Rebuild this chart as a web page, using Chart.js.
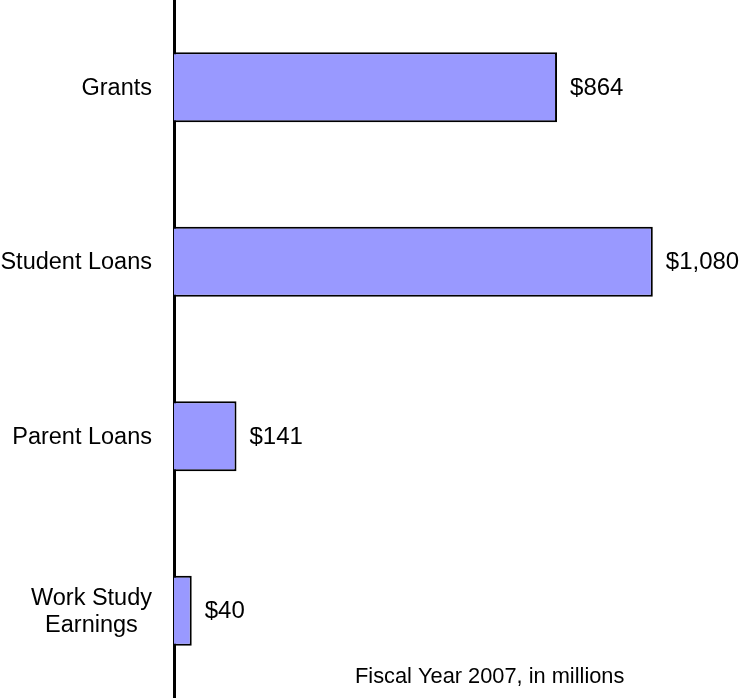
<!DOCTYPE html>
<html>
<head>
<meta charset="utf-8">
<title>Financial Aid by Type</title>
<script src="https://cdn.jsdelivr.net/npm/chart.js@4/dist/chart.umd.min.js"></script>
<style>
  html, body { margin: 0; padding: 0; background: #fff; }
  canvas { display: block; }
</style>
</head>
<body>
<canvas id="aidChart" width="740" height="698"></canvas>
<script>
// aid categories, top to bottom
var categories = ['Grants', 'Student Loans', 'Parent Loans', ['Work Study', 'Earnings']];
// amounts in millions of dollars
var amounts = [864, 1080, 141, 40];
var footnote = 'Fiscal Year 2007, in millions';

var fontFamily = "'Liberation Sans', Arial, Helvetica, sans-serif";

var formatMoney = function (v) {
  return '$' + v.toLocaleString('en-US');
};

// value labels next to each bar, category names left of the axis, footnote
var labelPlugin = {
  id: 'aidLabels',
  afterDraw: function (chart) {
    let ctx = chart.ctx;
    let meta = chart.getDatasetMeta(0);
    let yScale = chart.scales.y;

    ctx.save();
    ctx.fillStyle = '#000';

    ctx.font = '24px ' + fontFamily;
    ctx.textAlign = 'left';
    ctx.textBaseline = 'middle';
    meta.data.forEach((bar, i) => {
      ctx.fillText(formatMoney(amounts[i]), bar.x + 13, bar.y + 1);
    });

    ctx.font = '23.5px ' + fontFamily;
    ctx.textAlign = 'center';
    let rightEdge = yScale.right - 22;
    let lineHeight = 27;
    categories.forEach((label, i) => {
      let lines = Array.isArray(label) ? label : [label];
      let widest = Math.max.apply(null, lines.map(l => ctx.measureText(l).width));
      let cx = rightEdge - widest / 2;
      let cy = yScale.getPixelForTick(i);
      let startY = cy - (lines.length - 1) * lineHeight / 2;
      lines.forEach((line, j) => {
        ctx.fillText(line, cx, startY + j * lineHeight + 1);
      });
    });

    ctx.font = '21.8px ' + fontFamily;
    ctx.textAlign = 'left';
    ctx.textBaseline = 'alphabetic';
    ctx.fillText(footnote, 355, 683);

    ctx.restore();
  }
};

var config = {
  type: 'bar',
  data: {
    labels: categories,
    datasets: [{
      data: amounts,
      backgroundColor: '#9999ff',
      borderColor: '#000',
      borderWidth: 2,
      barPercentage: 0.4,
      categoryPercentage: 1
    }]
  },
  options: {
    indexAxis: 'y',
    responsive: false,
    animation: false,
    devicePixelRatio: 1,
    layout: { padding: { top: 0, bottom: 0, left: 0, right: 34 } },
    plugins: {
      legend: { display: false },
      tooltip: { enabled: false }
    },
    scales: {
      x: {
        display: false,
        min: 0,
        max: 1200
      },
      y: {
        grid: { display: false, drawTicks: false },
        border: { display: true, color: '#000', width: 3 },
        ticks: { display: false },
        afterFit: function (scale) {
          scale.width = 174;
        }
      }
    }
  },
  plugins: [labelPlugin]
};

let ctx = document.getElementById('aidChart').getContext('2d');
let chart = new Chart(ctx, config);
</script>
</body>
</html>
